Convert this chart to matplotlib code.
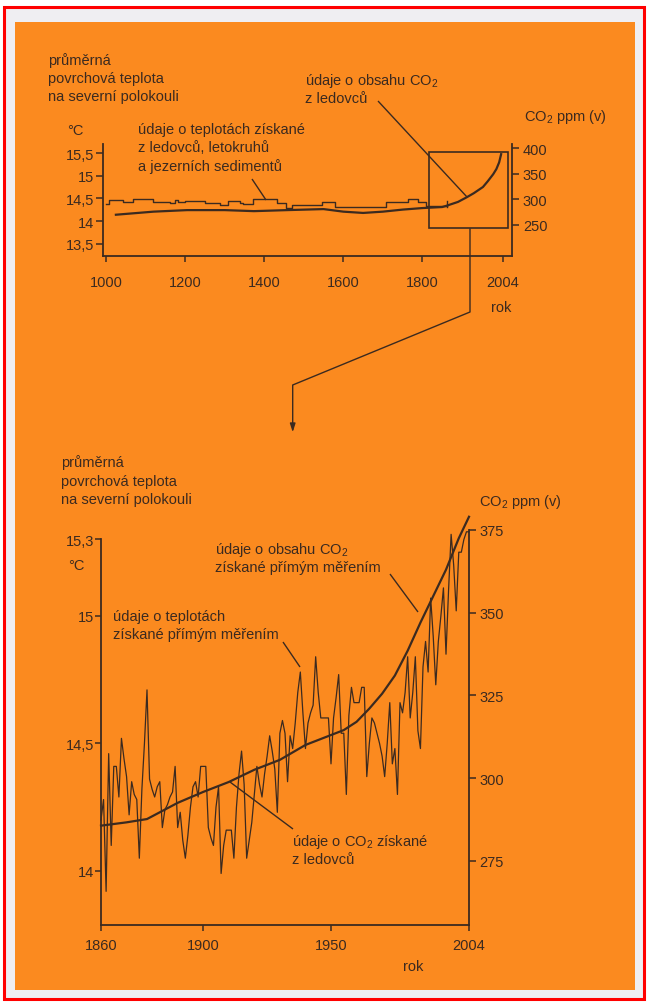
import matplotlib
matplotlib.use('Agg')
import matplotlib.pyplot as plt
from matplotlib.patches import Rectangle, FancyArrowPatch
from matplotlib.lines import Line2D

# ---------------------------------------------------------------- data
# Proxy temperature reconstruction (step values starting at each year), °C
proxy_years = [1000, 1008, 1044, 1069, 1120, 1162, 1174, 1183, 1200, 1250, 1288, 1309,
               1339, 1347, 1372, 1432, 1455, 1470, 1547, 1578, 1709, 1764, 1789, 1810, 1862]
proxy_temp = [14.38, 14.47, 14.43, 14.48, 14.43, 14.40, 14.47, 14.43, 14.45, 14.40, 14.36, 14.44,
              14.40, 14.38, 14.48, 14.40, 14.28, 14.36, 14.43, 14.31, 14.42, 14.49, 14.42, 14.34, 14.34]

# Ice-core CO2 over the millennium, ppm(v)
co2_long_years = [1025, 1120, 1205, 1300, 1374, 1458, 1550, 1600, 1650, 1700, 1750, 1800,
                  1850, 1861, 1890, 1912, 1930, 1953, 1965, 1979, 1987, 1994, 1999]
co2_long_ppm = [270, 276, 279, 279, 277, 279, 281, 276, 273.5, 276, 280, 283,
                285, 287.5, 295, 304, 312, 324, 335, 349, 359, 372, 388]

# Instrumental northern-hemisphere temperature 1860-2004, °C
temp_years = list(range(1860, 2005))
temp_values = [
    14.20, 14.28, 13.92, 14.46, 14.10, 14.41, 14.41, 14.29, 14.52, 14.44,  # 1860s
    14.37, 14.22, 14.35, 14.30, 14.28, 14.05, 14.32, 14.50, 14.71, 14.36,  # 1870s
    14.32, 14.29, 14.33, 14.35, 14.17, 14.24, 14.26, 14.29, 14.31, 14.41,  # 1880s
    14.17, 14.23, 14.12, 14.05, 14.14, 14.25, 14.33, 14.35, 14.29, 14.41,  # 1890s
    14.41, 14.41, 14.17, 14.13, 14.10, 14.25, 14.33, 13.99, 14.10, 14.16,  # 1900s
    14.16, 14.16, 14.05, 14.25, 14.38, 14.47, 14.34, 14.05, 14.12, 14.19,  # 1910s
    14.30, 14.41, 14.34, 14.29, 14.38, 14.45, 14.53, 14.47, 14.40, 14.23,  # 1920s
    14.54, 14.59, 14.54, 14.35, 14.53, 14.48, 14.58, 14.70, 14.78, 14.62,  # 1930s
    14.48, 14.58, 14.62, 14.65, 14.84, 14.70, 14.60, 14.60, 14.60, 14.60,  # 1940s
    14.42, 14.60, 14.68, 14.77, 14.54, 14.54, 14.30, 14.61, 14.72, 14.66,  # 1950s
    14.66, 14.66, 14.72, 14.72, 14.37, 14.50, 14.60, 14.58, 14.54, 14.50,  # 1960s
    14.45, 14.37, 14.50, 14.66, 14.42, 14.48, 14.30, 14.66, 14.62, 14.70,  # 1970s
    14.84, 14.60, 14.70, 14.84, 14.55, 14.48, 14.80, 14.90, 14.78, 15.07,  # 1980s
    14.92, 14.73, 14.90, 15.00, 15.11, 14.85, 15.10, 15.32, 15.20, 15.02,  # 1990s
    15.25, 15.25, 15.30, 15.33, 15.33,                                      # 2000s
]

# Ice-core and measured CO2 1860-2004, ppm(v)
co2_years = [1860, 1870, 1878, 1890, 1900, 1910, 1920, 1930, 1940, 1950, 1955,
             1960, 1965, 1970, 1975, 1980, 1985, 1990, 1995, 2000, 2004]
co2_ppm = [285.6, 286.6, 287.6, 292.5, 295.8, 298.8, 302.5, 305.5, 310.0, 313.0, 314.5,
           317.0, 321.0, 325.5, 331.0, 338.5, 347.0, 355.0, 363.0, 372.5, 379.0]

top_xticks = [1000, 1200, 1400, 1600, 1800, 2004]
top_temp_ticks = [13.5, 14, 14.5, 15, 15.5]
top_temp_labels = ['13,5', '14', '14,5', '15', '15,5']
top_co2_ticks = [250, 300, 350, 400]

bottom_xticks = [1860, 1900, 1950, 2004]
bottom_temp_ticks = [14, 14.5, 15, 15.3]
bottom_temp_labels = ['14', '14,5', '15', '15,3']
bottom_co2_ticks = [275, 300, 325, 350, 375]

# ---------------------------------------------------------------- style
W, H = 648, 1003
plt.rcParams['font.family'] = ['Liberation Sans', 'DejaVu Sans']
plt.rcParams['mathtext.default'] = 'regular'
FS = 10.5
INK = '#3b2a20'
ORANGE = '#fb8a1f'

fig = plt.figure(figsize=(W / 100, H / 100), dpi=100)
fig.patch.set_facecolor('white')


def fx(x):
    return x / W


def fy(y):
    return 1 - y / H


def rect(x0, y0, x1, y1):
    return [fx(x0), fy(y1), (x1 - x0) / W, (y1 - y0) / H]


def ftext(x, y, s, **kw):
    kw.setdefault('ha', 'left')
    kw.setdefault('va', 'center')
    fig.text(fx(x), fy(y), s, fontsize=FS, color=INK, **kw)


def fline(xs, ys, lw=1.0):
    fig.add_artist(Line2D([fx(v) for v in xs], [fy(v) for v in ys],
                          transform=fig.transFigure, color=INK, lw=lw,
                          solid_capstyle='butt', zorder=5))


# page: red frame, pale margin, orange panel (kept beneath the axes)
fig.add_artist(Rectangle((fx(4), fy(1000)), fx(644) - fx(4), fy(8) - fy(1000),
                         transform=fig.transFigure, facecolor='#efeef2',
                         edgecolor='#ff0000', lw=2.2, zorder=-20))
fig.add_artist(Rectangle((fx(15), fy(991)), fx(635) - fx(15), fy(23) - fy(991),
                         transform=fig.transFigure, facecolor=ORANGE,
                         edgecolor='none', zorder=-19))

# ---------------------------------------------------------------- top chart
ax1 = fig.add_axes(rect(103, 145, 512, 257))
ax1.set_facecolor('none')
ax1.set_xlim(992.4, 2026.5)
ax1.set_ylim(13.228, 15.70)
ax1.spines['top'].set_visible(False)
ax1.spines['right'].set_visible(False)
for s in ('left', 'bottom'):
    ax1.spines[s].set_color(INK)
    ax1.spines[s].set_linewidth(1.3)
ax1.set_xticks(top_xticks)
ax1.set_xticklabels([str(v) for v in top_xticks])
ax1.set_yticks(top_temp_ticks)
ax1.set_yticklabels(top_temp_labels)
ax1.tick_params(axis='x', direction='out', length=4.5, width=1.1, pad=9,
                colors=INK, labelsize=FS)
ax1.tick_params(axis='y', direction='out', length=5, width=1.1, pad=1.5,
                colors=INK, labelsize=FS)

ax1.plot(proxy_years, proxy_temp, drawstyle='steps-post', color=INK, lw=1.0)
ax1.plot([proxy_years[-1], proxy_years[-1]], [14.30, 14.45], color=INK, lw=1.0)

ax1r = ax1.twinx()
ax1r.set_facecolor('none')
ax1r.set_ylim(189.6, 407.8)
for s in ('left', 'top', 'bottom'):
    ax1r.spines[s].set_visible(False)
ax1r.spines['right'].set_color(INK)
ax1r.spines['right'].set_linewidth(1.3)
ax1r.set_yticks(top_co2_ticks)
ax1r.tick_params(axis='y', direction='out', length=4.8, width=1.1, pad=3,
                 colors=INK, labelsize=FS)
ax1r.plot(co2_long_years, co2_long_ppm, color=INK, lw=1.6)
ax1r.add_patch(Rectangle((1817, 243.6), 200, 148, facecolor='none',
                         edgecolor=INK, lw=1.2))

ftext(48, 61, 'průměrná')
ftext(48, 79, 'povrchová teplota')
ftext(48, 97, 'na severní polokouli')
ftext(67, 131, '°C')
ftext(138, 130, 'údaje o teplotách získané')
ftext(138, 148, 'z ledovců, letokruhů')
ftext(138, 167, 'a jezerních sedimentů')
ftext(305, 81, 'údaje o obsahu CO$_2$')
ftext(305, 99, 'z ledovců')
ftext(524, 117, 'CO$_2$ ppm (v)')
ftext(501, 308, 'rok', ha='center')

fline([252, 266], [180, 201])
fline([378, 467], [102, 198])

# connector from the highlighted box down to the detail chart
fline([470, 470, 292.7, 292.7], [229.3, 313, 386, 428])
fig.add_artist(FancyArrowPatch(
    (fx(292.7), fy(424)), (fx(292.7), fy(436)), transform=fig.transFigure,
    arrowstyle='-|>,head_length=5,head_width=1.6', color=INK, lw=1.0,
    mutation_scale=1, zorder=5))

# ---------------------------------------------------------------- bottom chart
ax2 = fig.add_axes(rect(101, 505, 469, 926))
ax2.set_facecolor('none')
ax2.set_xlim(1860, 2004)
ax2.set_ylim(13.788, 15.439)
ax2.spines['top'].set_visible(False)
ax2.spines['right'].set_visible(False)
for s in ('left', 'bottom'):
    ax2.spines[s].set_color(INK)
    ax2.spines[s].set_linewidth(1.3)
ax2.spines['left'].set_bounds(13.788, 15.3)
ax2.set_xticks(bottom_xticks)
ax2.set_xticklabels([str(v) for v in bottom_xticks])
ax2.set_yticks(bottom_temp_ticks)
ax2.set_yticklabels(bottom_temp_labels)
ax2.tick_params(axis='x', direction='out', length=4, width=1.1, pad=5,
                colors=INK, labelsize=FS)
ax2.tick_params(axis='y', direction='out', length=4.2, width=1.1, pad=1,
                colors=INK, labelsize=FS)
ax2.plot(temp_years, temp_values, color=INK, lw=0.9, clip_on=False)

ax2r = ax2.twinx()
ax2r.set_facecolor('none')
ax2r.set_ylim(255.56, 382.86)
for s in ('left', 'top', 'bottom'):
    ax2r.spines[s].set_visible(False)
ax2r.spines['right'].set_color(INK)
ax2r.spines['right'].set_linewidth(1.3)
ax2r.spines['right'].set_bounds(255.56, 375)
ax2r.set_yticks(bottom_co2_ticks)
ax2r.tick_params(axis='y', direction='out', length=4.8, width=1.1, pad=2.4,
                 colors=INK, labelsize=FS)
ax2r.plot(co2_years, co2_ppm, color=INK, lw=1.6, clip_on=False)

ftext(61, 463, 'průměrná')
ftext(61, 482, 'povrchová teplota')
ftext(61, 500, 'na severní polokouli')
ftext(68, 566, '°C')
ftext(215, 550, 'údaje o obsahu CO$_2$')
ftext(215, 568, 'získané přímým měřením')
ftext(113, 617, 'údaje o teplotách')
ftext(113, 635, 'získané přímým měřením')
ftext(479, 502, 'CO$_2$ ppm (v)')
ftext(292, 842, 'údaje o CO$_2$ získané')
ftext(292, 860, 'z ledovců')
ftext(413, 967, 'rok', ha='center')

fline([283, 300], [643, 668])
fline([390, 418], [575, 613])
fline([230, 293], [783, 830])

fig.savefig('out.png', dpi=100, facecolor=fig.get_facecolor())
